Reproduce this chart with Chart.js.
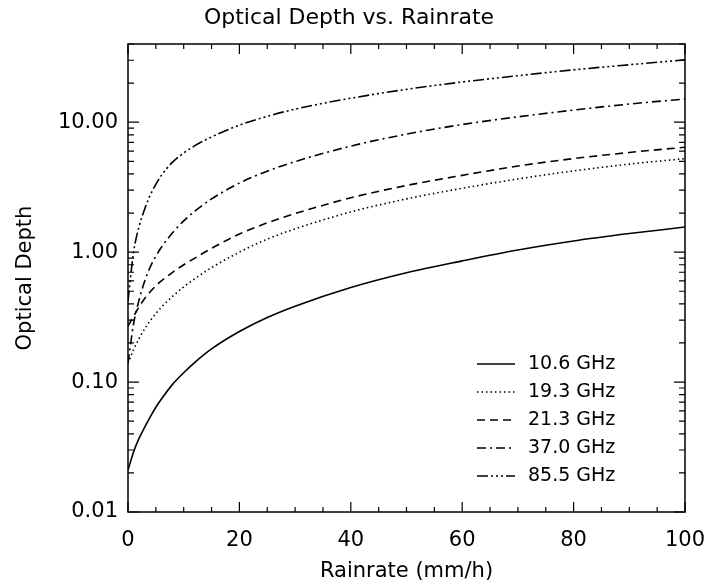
<!DOCTYPE html>
<html>
<head>
<meta charset="utf-8">
<script src="https://cdn.jsdelivr.net/npm/chart.js@4.4.1/dist/chart.umd.min.js"></script>
<style>
  html, body { margin: 0; padding: 0; background: #fff; }
  #wrap { width: 709px; height: 586px; }
</style>
</head>
<body>
<div id="wrap"><canvas id="c" width="709" height="586"></canvas></div>
<script>
// ---- data ----
const rainrate = [0, 1, 2, 3, 4, 5, 6, 8, 10, 12, 15, 20, 25, 30, 40, 50, 60, 70, 80, 90, 100];
const seriesNames = ['10.6 GHz', '19.3 GHz', '21.3 GHz', '37.0 GHz', '85.5 GHz'];
const tau106 = [0.021, 0.029, 0.037, 0.045, 0.054, 0.064, 0.074, 0.096, 0.118, 0.142, 0.180, 0.245, 0.314, 0.384, 0.535, 0.695, 0.857, 1.04, 1.22, 1.39, 1.56];
const tau193 = [0.139, 0.178, 0.217, 0.257, 0.297, 0.337, 0.377, 0.457, 0.540, 0.625, 0.76, 1.00, 1.26, 1.51, 2.04, 2.57, 3.10, 3.66, 4.22, 4.76, 5.25];
const tau213 = [0.27, 0.32, 0.38, 0.44, 0.495, 0.55, 0.60, 0.70, 0.80, 0.90, 1.07, 1.38, 1.68, 1.98, 2.62, 3.26, 3.90, 4.60, 5.25, 5.85, 6.42];
const tau370 = [0.14, 0.28, 0.43, 0.60, 0.77, 0.93, 1.09, 1.41, 1.74, 2.07, 2.57, 3.40, 4.20, 4.98, 6.55, 8.10, 9.60, 11.0, 12.4, 13.8, 15.1];
const tau855 = [0.42, 1.00, 1.58, 2.15, 2.75, 3.33, 3.90, 4.93, 5.80, 6.60, 7.70, 9.50, 11.1, 12.6, 15.3, 17.9, 20.4, 22.8, 25.3, 27.7, 30.2];
const xTickValues = [0, 20, 40, 60, 80, 100];
const yTickLabels = ['0.01', '0.10', '1.00', '10.00'];

const allSeries = [tau106, tau193, tau213, tau370, tau855];
const dashes = [[], [1.5, 3], [8, 5], [9, 4, 2, 4], [11, 3, 2, 3, 2, 3, 2, 3]];

const FONT = '"DejaVu Sans", sans-serif';

const datasets = allSeries.map((vals, k) => ({
  label: seriesNames[k],
  data: rainrate.map((r, i) => ({ x: r, y: vals[i] })),
  borderColor: '#000',
  borderWidth: 1.6,
  borderDash: dashes[k],
  pointRadius: 0,
  fill: false,
  cubicInterpolationMode: 'monotone'
}));

// inward ticks on all four sides + frame + in-plot legend
const framePlugin = {
  id: 'frame',
  afterDatasetsDraw(chart) {
    const { ctx, chartArea: a, scales } = chart;
    const xs = scales.x, ys = scales.y;
    ctx.save();
    ctx.strokeStyle = '#000';
    ctx.lineWidth = 1.5;
    ctx.setLineDash([]);
    ctx.strokeRect(a.left, a.top, a.right - a.left, a.bottom - a.top);
    ctx.lineWidth = 1.2;
    ctx.beginPath();
    for (let v = 0; v <= 100; v += 5) {
      const px = xs.getPixelForValue(v);
      const len = (v % 20 === 0) ? 10 : 5;
      ctx.moveTo(px, a.bottom); ctx.lineTo(px, a.bottom - len);
      ctx.moveTo(px, a.top); ctx.lineTo(px, a.top + len);
    }
    for (let e = -2; e <= 1; e++) {
      for (let m = 1; m <= 9; m++) {
        const v = m * Math.pow(10, e);
        if (v > ys.max) continue;
        const py = ys.getPixelForValue(v);
        const len = (m === 1) ? 11 : 6;
        ctx.moveTo(a.left, py); ctx.lineTo(a.left + len, py);
        ctx.moveTo(a.right, py); ctx.lineTo(a.right - len, py);
      }
    }
    ctx.stroke();

    // legend
    const rowY = [364, 392, 420, 448, 476];
    ctx.font = '19px ' + FONT;
    ctx.fillStyle = '#000';
    ctx.textBaseline = 'middle';
    ctx.textAlign = 'left';
    chart.data.datasets.forEach((ds, k) => {
      ctx.save();
      ctx.lineWidth = 1.6;
      ctx.setLineDash(ds.borderDash);
      ctx.beginPath();
      ctx.moveTo(477, rowY[k]);
      ctx.lineTo(515, rowY[k]);
      ctx.stroke();
      ctx.restore();
      ctx.fillText(ds.label, 528, rowY[k]);
    });
    ctx.restore();
  }
};

new Chart(document.getElementById('c'), {
  type: 'line',
  data: { datasets },
  plugins: [framePlugin],
  options: {
    responsive: false,
    animation: false,
    layout: { padding: { left: 0, right: 11, top: 0, bottom: 0 } },
    plugins: {
      legend: { display: false },
      tooltip: { enabled: false },
      title: {
        display: true,
        text: 'Optical Depth vs. Rainrate',
        color: '#000',
        font: { family: FONT, size: 22, weight: 'normal', lineHeight: 1.2 },
        padding: { top: 5, bottom: 12.6 }
      }
    },
    scales: {
      x: {
        type: 'linear',
        min: 0, max: 100,
        afterFit(s) { s.height = 74; s.paddingLeft = 0; s.paddingRight = 24; },
        afterBuildTicks(s) { s.ticks = xTickValues.map(v => ({ value: v })); },
        grid: { display: false, drawTicks: false },
        border: { display: false },
        ticks: {
          color: '#000',
          padding: 16,
          maxRotation: 0,
          font: { family: FONT, size: 21 },
          callback: v => String(v)
        },
        title: {
          display: true,
          text: 'Rainrate (mm/h)',
          color: '#000',
          font: { family: FONT, size: 21 },
          padding: { top: 0, bottom: 2 }
        }
      },
      y: {
        type: 'logarithmic',
        min: 0.01, max: 40,
        afterFit(s) { s.width = 128; },
        afterBuildTicks(s) { s.ticks = yTickLabels.map(t => ({ value: parseFloat(t) })); },
        grid: { display: false, drawTicks: false },
        border: { display: false },
        ticks: {
          color: '#000',
          padding: 10,
          autoSkip: false,
          font: { family: FONT, size: 21 },
          callback: (v) => {
            const i = yTickLabels.findIndex(t => Math.abs(parseFloat(t) - v) < 1e-9);
            return i >= 0 ? yTickLabels[i] : '';
          }
        },
        title: {
          display: true,
          text: 'Optical Depth',
          color: '#000',
          font: { family: FONT, size: 21 },
          padding: { top: 13, bottom: 0 }
        }
      }
    }
  }
});
</script>
</body>
</html>
